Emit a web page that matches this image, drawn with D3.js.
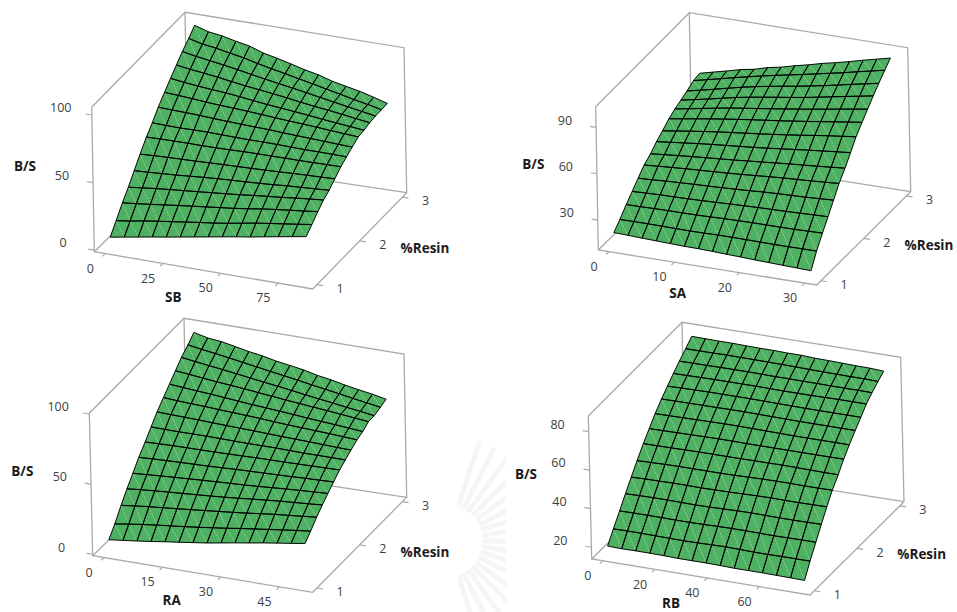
<!DOCTYPE html>
<html>
<head>
<meta charset="utf-8">
<script src="https://d3js.org/d3.v7.min.js"></script>
<style>
  html, body { margin: 0; background: #fff; }
  text { font-family: "Open Sans", "Noto Sans", sans-serif; }
</style>
</head>
<body>
<div id="chart"></div>
<script>
// %Resin levels, same for all four surfaces
const resinLevels = [1, 1.14, 1.29, 1.43, 1.57, 1.71, 1.86, 2, 2.14, 2.29, 2.43, 2.57, 2.71, 2.86, 3];
const resinTicks = [1, 2, 3];

const sbLevels = [0, 6.1, 12.2, 18.3, 24.4, 30.5, 36.6, 42.7, 48.8, 54.9, 61, 67.1, 73.2, 79.3, 85.4];
const saLevels = [0, 2.16, 4.31, 6.47, 8.63, 10.79, 12.94, 15.1, 17.26, 19.41, 21.57, 23.73, 25.89, 28.04, 30.2];
const raLevels = [0, 3.61, 7.23, 10.84, 14.46, 18.07, 21.69, 25.3, 28.91, 32.53, 36.14, 39.76, 43.37, 46.99, 50.6];
const rbLevels = [0, 5.39, 10.79, 16.18, 21.57, 26.96, 32.36, 37.75, 43.14, 48.54, 53.93, 59.32, 64.71, 70.11, 75.5];

const sbTicks = [0, 25, 50, 75];
const saTicks = [0, 10, 20, 30];
const raTicks = [0, 15, 30, 45];
const rbTicks = [0, 20, 40, 60];

const bsTicksSB = [0, 50, 100];
const bsTicksSA = [30, 60, 90];
const bsTicksRA = [0, 50, 100];
const bsTicksRB = [20, 40, 60, 80];

// B/S, one row per %Resin level
const sbValues = [
  [8, 9.8, 11.6, 13.4, 15.1, 16.9, 18.7, 20.5, 22.3, 24.1, 25.7, 27.6, 29.4, 31.2, 33],
  [15.9, 17.4, 19.2, 20.7, 22.1, 23.6, 25, 26.3, 27.9, 29.7, 31.5, 33, 34.4, 35.9, 37.4],
  [24.5, 25.6, 26.8, 28.1, 29.4, 30.6, 31.8, 33, 34.2, 35.6, 37.2, 38.5, 39.7, 40.8, 42.1],
  [31.7, 32.9, 34.1, 35.1, 36, 36.9, 37.9, 38.8, 39.8, 41, 42, 43, 44.2, 45.2, 46.2],
  [39.6, 40.1, 40.8, 41.4, 42.3, 43.1, 43.8, 44.4, 44.9, 45.5, 46.2, 47, 47.6, 48.2, 48.9],
  [47.4, 48, 48.4, 48.7, 49, 49.4, 49.8, 50.1, 50.4, 50.8, 51.2, 51.7, 52.1, 52.4, 52.8],
  [55.3, 55.6, 55.7, 55.8, 55.7, 55.8, 56, 56.3, 56.4, 56.4, 56.5, 56.5, 56.6, 56.8, 56.9],
  [61.5, 61.2, 61, 61.2, 61.2, 61, 60.7, 60.6, 60.6, 60.5, 60.2, 60, 60, 59.9, 59.7],
  [68.6, 68.2, 67.9, 67.5, 66.9, 66.4, 66, 65.6, 65.3, 64.7, 64.2, 63.8, 63.3, 62.8, 62.4],
  [74.8, 74.2, 73.5, 72.6, 71.9, 71.4, 70.8, 70.1, 69.3, 68.6, 68, 67.3, 66.5, 65.8, 65.1],
  [80.7, 79.4, 78.3, 77.4, 76.6, 75.5, 74.2, 73, 72, 71, 69.9, 68.7, 67.6, 66.6, 65.5],
  [86.1, 84.6, 83.4, 82.1, 80.5, 79, 77.8, 76.5, 75.1, 73.5, 72.1, 70.9, 69.5, 68, 66.6],
  [91.6, 89.7, 88.2, 86.6, 84.9, 83, 81.2, 79.5, 77.8, 76.1, 74.2, 72.4, 70.6, 68.8, 67],
  [96.5, 94, 92.6, 90.6, 88.8, 86.3, 84.1, 82.1, 79.9, 77.8, 75.6, 73.4, 71.1, 69.1, 66.9],
  [101.7, 98.6, 97.2, 94.9, 93, 89.5, 87.3, 84.8, 82.1, 80, 76.9, 74.8, 72.7, 70, 67]
];

const saValues = [
  [20.4, 20.1, 19.7, 19.4, 19.1, 18.8, 18.7, 18.4, 18, 17.7, 17.3, 17, 16.7, 16.4, 16.1],
  [25.1, 25.2, 25.2, 25.1, 25, 24.9, 25, 25.2, 25.2, 25.1, 25, 24.9, 24.9, 25, 25],
  [30.7, 30.8, 31, 31.1, 31.1, 31.2, 31.4, 31.7, 31.9, 32, 32, 32, 32.1, 32.3, 32.5],
  [35.4, 35.8, 36.1, 36.2, 36.4, 36.7, 37, 37.4, 37.7, 38, 38.2, 38.4, 38.7, 39, 39.3],
  [40.2, 40.6, 41.2, 41.6, 42, 42.3, 42.7, 43.1, 43.6, 44.2, 44.6, 44.9, 45.2, 45.7, 46.2],
  [44.9, 45.6, 46.2, 46.8, 47.3, 47.8, 48.3, 48.9, 49.6, 50.3, 50.9, 51.4, 51.9, 52.5, 53.1],
  [48.1, 49, 49.8, 50.6, 51.3, 52, 52.7, 53.5, 54.3, 55.1, 55.9, 56.6, 57.3, 58.1, 58.9],
  [52.2, 53.2, 54.2, 55.2, 56.1, 56.9, 57.7, 58.5, 59.4, 60.4, 61.4, 62.4, 63.3, 64.2, 65.1],
  [55.4, 56.7, 58, 59.2, 60.4, 61.4, 62.4, 63.4, 64.5, 65.6, 66.8, 68.1, 69.3, 70.4, 71.5],
  [59.1, 60.5, 61.9, 63.3, 64.6, 65.8, 67, 68.1, 69.2, 70.4, 71.6, 72.9, 74.2, 75.5, 76.7],
  [61.7, 63.2, 64.8, 66.4, 67.9, 69.2, 70.4, 71.7, 73, 74.3, 75.7, 77.1, 78.6, 80, 81.4],
  [63.6, 65.3, 67.1, 69, 70.9, 72.5, 73.9, 75.3, 76.6, 78, 79.6, 81.3, 82.9, 84.5, 86.1],
  [65.7, 67.6, 69.6, 71.7, 73.7, 75.5, 77.1, 78.6, 80, 81.6, 83.2, 85, 86.9, 88.6, 90.4],
  [68.3, 70.3, 72.3, 74.4, 76.4, 78.3, 80.1, 81.8, 83.5, 85.3, 87.1, 88.9, 90.9, 92.8, 94.7],
  [69.2, 71.4, 73.5, 75.8, 77.4, 79.9, 81.6, 83.9, 85.9, 88.2, 90.1, 92.2, 94.5, 96.6, 98.7]
];

const raValues = [
  [8.9, 10.1, 11.3, 12.6, 14.1, 15.4, 16.8, 18.2, 19.9, 21.6, 23.2, 24.9, 26.4, 27.9, 29.4],
  [16, 17.5, 18.9, 20.1, 21.2, 22.3, 23.5, 24.8, 26.1, 27.6, 28.9, 30.2, 31.5, 32.8, 34],
  [24.8, 26, 27.1, 28, 28.9, 29.9, 30.9, 31.9, 32.9, 34, 35.2, 36.4, 37.3, 38.3, 39.3],
  [32.4, 33.4, 34.2, 34.9, 35.6, 36.3, 37, 37.8, 38.7, 39.7, 40.6, 41.5, 42.2, 42.9, 43.7],
  [39.3, 39.9, 40.6, 41.2, 41.8, 42.4, 42.9, 43.4, 43.9, 44.5, 45.2, 45.9, 46.5, 47, 47.6],
  [46.4, 46.9, 47.3, 47.6, 47.9, 48.2, 48.6, 49.1, 49.4, 49.7, 50, 50.4, 50.8, 51.1, 51.5],
  [52.8, 53.1, 53.4, 53.5, 53.6, 53.7, 53.9, 54.1, 54.4, 54.5, 54.6, 54.8, 55, 55.2, 55.4],
  [59.3, 59.1, 59, 59.1, 59.1, 59, 58.8, 58.7, 58.7, 58.7, 58.5, 58.3, 58.3, 58.3, 58.2],
  [65.7, 65.4, 65.1, 64.8, 64.4, 64, 63.7, 63.4, 63, 62.6, 62.3, 62, 61.6, 61.2, 60.9],
  [71.4, 70.7, 70.2, 69.8, 69.2, 68.7, 68.2, 67.6, 66.9, 66.3, 65.8, 65.3, 64.8, 64.2, 63.6],
  [76.6, 75.8, 75, 74.3, 73.4, 72.5, 71.6, 70.9, 70.1, 69.3, 68.4, 67.6, 66.9, 66, 65.2],
  [81.9, 80.9, 79.8, 78.8, 77.9, 77, 75.9, 74.9, 73.8, 72.9, 71.9, 71, 70, 68.9, 67.9],
  [87.1, 85.7, 84.4, 83.2, 81.8, 80.4, 79, 77.7, 76.3, 74.8, 73.4, 72.1, 70.6, 69.3, 67.8],
  [91.4, 89.8, 88.4, 86.9, 85.3, 83.7, 82.1, 80.6, 79, 77.3, 75.7, 74.1, 72.4, 70.8, 69.2],
  [95.9, 93.6, 92.6, 90.7, 88.7, 87.2, 85.1, 83.6, 82, 79.7, 78.1, 76, 74.2, 72.6, 70.6]
];

const rbValues = [
  [19.5, 19.3, 19.4, 19.4, 19.3, 19.1, 19.1, 19.1, 19, 18.8, 18.8, 18.8, 18.7, 18.6, 18.5],
  [25.4, 25.5, 25.5, 25.4, 25.3, 25.2, 25.3, 25.5, 25.6, 25.5, 25.3, 25.3, 25.4, 25.4, 25.4],
  [31.5, 31.6, 31.6, 31.6, 31.5, 31.5, 31.6, 31.8, 31.9, 31.9, 31.8, 31.7, 31.8, 31.9, 31.9],
  [37.4, 37.6, 37.7, 37.7, 37.6, 37.5, 37.6, 37.8, 38, 38.1, 38, 37.9, 37.9, 38, 38.1],
  [43, 43.2, 43.3, 43.4, 43.4, 43.3, 43.4, 43.5, 43.7, 43.9, 44, 43.9, 43.9, 44, 44.1],
  [48.5, 48.7, 48.9, 49, 49, 49, 49, 49.1, 49.3, 49.5, 49.6, 49.6, 49.5, 49.5, 49.6],
  [54.1, 54.1, 54.2, 54.3, 54.4, 54.4, 54.4, 54.4, 54.5, 54.5, 54.6, 54.5, 54.4, 54.3, 54.3],
  [58.8, 58.9, 59, 59.1, 59.2, 59.3, 59.3, 59.2, 59.2, 59.2, 59.2, 59.2, 59.2, 59.2, 59.3],
  [63.5, 63.6, 63.7, 63.8, 63.9, 64, 64, 63.9, 63.8, 63.7, 63.6, 63.6, 63.6, 63.6, 63.6],
  [67.8, 67.9, 67.9, 68, 68, 68.1, 68.1, 68, 67.9, 67.8, 67.7, 67.7, 67.7, 67.7, 67.7],
  [71.4, 71.6, 71.7, 71.8, 71.8, 71.8, 71.8, 71.7, 71.6, 71.5, 71.4, 71.4, 71.4, 71.4, 71.4],
  [74.9, 75, 75.1, 75.2, 75.2, 75.2, 75.2, 75.1, 75, 75, 75, 75.1, 75.2, 75.2, 75.2],
  [78.2, 78.3, 78.3, 78.4, 78.4, 78.4, 78.3, 78.2, 78.2, 78.1, 78.1, 78, 78, 78, 77.9],
  [81.4, 81.4, 81.4, 81.5, 81.4, 81.4, 81.3, 81.2, 81.1, 80.9, 80.8, 80.7, 80.6, 80.6, 80.4],
  [84.7, 84.6, 84.5, 84.5, 84.3, 84.2, 84.2, 84, 84, 83.6, 83.5, 83.3, 83.1, 83, 82.6]
];

const width = 957;
const height = 612;
const fillGreen = "#4eb161";
const boxGrey = "#a9a9a9";
const textGrey = "#404040";

// domains are the box limits, corners are where the box lands on the page
const panels = [
  {
    xName: "SB", levels: sbLevels, values: sbValues, xTicks: sbTicks, zTicks: bsTicksSB,
    xDomain: [-4.75, 90], zDomain: [-1.2, 105.7],
    bottom: { fl: [94.3, 251.7], fr: [312.7, 289], br: [406.7, 192.7], bl: [187.7, 160] },
    top: { fl: [91.7, 107.3], fr: [310, 144], br: [404, 47.7], bl: [185, 12.3] },
    bsPos: [25, 167.7], xPos: [173.3, 298], resinPos: [425, 249]
  },
  {
    xName: "SA", levels: saLevels, values: saValues, xTicks: saTicks, zTicks: bsTicksSA,
    xDomain: [-1.63, 31.8], zDomain: [10.6, 103.4],
    bottom: { fl: [598.3, 250], fr: [816.7, 285], br: [910.7, 191.7], bl: [692, 157.3] },
    top: { fl: [595.7, 106.7], fr: [814, 141.7], br: [907.7, 47.7], bl: [689.3, 12.7] },
    bsPos: [533.3, 165.7], xPos: [677.7, 294.3], resinPos: [929, 246]
  },
  {
    xName: "RA", levels: raLevels, values: raValues, xTicks: raTicks, zTicks: bsTicksRA,
    xDomain: [-2.9, 53.6], zDomain: [-1, 100.5],
    bottom: { fl: [92.7, 555.7], fr: [312.7, 592.3], br: [406.7, 497.3], bl: [186.7, 464] },
    top: { fl: [89.3, 413.3], fr: [309.5, 450], br: [404, 354], bl: [184, 318.3] },
    bsPos: [22.3, 472.3], xPos: [171.7, 601.7], resinPos: [425, 553.3]
  },
  {
    xName: "RB", levels: rbLevels, values: rbValues, xTicks: rbTicks, zTicks: bsTicksRB,
    xDomain: [-4.2, 79.4], zDomain: [13.9, 88.1],
    bottom: { fl: [591.7, 559], fr: [810, 595], br: [904, 501.7], bl: [684.7, 467.3] },
    top: { fl: [588.3, 416], fr: [806.7, 452], br: [900.7, 357.3], bl: [682, 322.3] },
    bsPos: [526, 475], xPos: [671, 604], resinPos: [921.7, 555.7]
  }
];

const svg = d3.select("#chart").append("svg").attr("width", width).attr("height", height);
svg.append("rect").attr("width", width).attr("height", height).attr("fill", "#fff");

// faint seal behind the lower panels, only a strip of it shows
svg.append("clipPath").attr("id", "sealClip").append("rect")
  .attr("x", 458).attr("y", 440).attr("width", 48).attr("height", 172);
svg.append("g").attr("clip-path", "url(#sealClip)")
  .selectAll("line")
  .data(d3.range(-72, 73, 9))
  .enter()
  .append("line")
  .attr("x1", (d) => 447 + 36 * Math.cos(d * Math.PI / 180))
  .attr("y1", (d) => 541 + 36 * Math.sin(d * Math.PI / 180))
  .attr("x2", (d) => 447 + 105 * Math.cos(d * Math.PI / 180))
  .attr("y2", (d) => 541 + 105 * Math.sin(d * Math.PI / 180))
  .attr("stroke", "#f5f5f5")
  .attr("stroke-width", 5);

panels.forEach(drawPanel);

function drawPanel(p) {
  const uScale = d3.scaleLinear().domain(p.xDomain).range([0, 1]);
  const vScale = d3.scaleLinear().domain([0.9, 3.1]).range([0, 1]);
  const wScale = d3.scaleLinear().domain(p.zDomain).range([0, 1]);
  // the surface sits a little inside the box towards the back
  const surfaceV = d3.scaleLinear().domain([0.9, 3.12]).range([0, 1]);

  // trilinear map from box fractions to page
  function mix(a, b, t) {
    return [a[0] + (b[0] - a[0]) * t, a[1] + (b[1] - a[1]) * t];
  }
  function boxPoint(u, v, w) {
    const low = mix(mix(p.bottom.fl, p.bottom.fr, u), mix(p.bottom.bl, p.bottom.br, u), v);
    const high = mix(mix(p.top.fl, p.top.fr, u), mix(p.top.bl, p.top.br, u), v);
    return mix(low, high, w);
  }
  const project = (x, r, z) => {
    const v = surfaceV(r);
    const u = uScale(x) + 0.004;
    return boxPoint(u + (0.5 - u) * 0.03 * v, v, wScale(z));
  };
  const line = d3.line();

  const g = svg.append("g");

  // box, drawn behind the surface
  const frame = [
    [p.top.fl, p.top.bl, p.top.br, p.bottom.br, p.bottom.fr, p.bottom.fl, p.top.fl],
    [p.top.bl, p.bottom.bl, p.bottom.br],
    [p.bottom.bl, p.bottom.fl]
  ];
  g.selectAll(".frame")
    .data(frame)
    .enter()
    .append("path")
    .attr("class", "frame")
    .attr("d", (d) => line(d))
    .attr("fill", "none")
    .attr("stroke", boxGrey)
    .attr("stroke-width", 1.3);

  // tick stubs run along the neighbouring box edge
  const zTickPts = p.zTicks.map((t) => ({ t, a: boxPoint(0, 0, wScale(t)), b: boxPoint(-0.028, 0, wScale(t)) }));
  const xTickPts = p.xTicks.map((t) => ({ t, a: boxPoint(uScale(t), 0, 0), b: boxPoint(uScale(t), -0.03, 0) }));
  const rTickPts = resinTicks.map((t) => ({ t, a: boxPoint(1, vScale(t), 0), b: boxPoint(1.028, vScale(t), 0) }));
  const allTicks = zTickPts.concat(xTickPts, rTickPts);

  g.selectAll(".stub")
    .data(allTicks)
    .enter()
    .append("line")
    .attr("class", "stub")
    .attr("x1", (d) => d.a[0])
    .attr("y1", (d) => d.a[1])
    .attr("x2", (d) => d.b[0])
    .attr("y2", (d) => d.b[1])
    .attr("stroke", boxGrey)
    .attr("stroke-width", 1.2);

  const tickLabels = [
    { pts: zTickPts, dx: -25, dy: -5 },
    { pts: xTickPts, dx: -12, dy: 13 },
    { pts: rTickPts, dx: 17, dy: 4 }
  ];
  tickLabels.forEach((group) => {
    g.selectAll(null)
      .data(group.pts)
      .enter()
      .append("text")
      .attr("x", (d) => d.b[0] + group.dx)
      .attr("y", (d) => d.b[1] + group.dy)
      .attr("text-anchor", "middle")
      .attr("dominant-baseline", "middle")
      .attr("font-size", 12.5)
      .attr("fill", textGrey)
      .text((d) => d.t);
  });

  // surface: every cell is split in two triangles with a pale seam between them
  const grid = p.values.map((row, i) => row.map((z, j) => project(p.levels[j], resinLevels[i], z)));
  const triangles = [];
  const cells = [];
  const seams = [];
  d3.range(grid.length - 1).forEach((i) => {
    d3.range(grid[0].length - 1).forEach((j) => {
      const a = grid[i][j];
      const b = grid[i][j + 1];
      const c = grid[i + 1][j + 1];
      const d = grid[i + 1][j];
      triangles.push([a, b, d], [b, c, d]);
      cells.push([a, b, c, d, a]);
      seams.push([d, b]);
    });
  });
  g.selectAll(".tri")
    .data(triangles)
    .enter()
    .append("path")
    .attr("class", "tri")
    .attr("d", (d) => line(d) + "Z")
    .attr("fill", fillGreen)
    .attr("stroke", fillGreen)
    .attr("stroke-width", 0.3);

  g.selectAll(".seam")
    .data(seams)
    .enter()
    .append("path")
    .attr("class", "seam")
    .attr("d", (d) => line(d))
    .attr("stroke", "#fff")
    .attr("stroke-opacity", 0.4)
    .attr("stroke-width", 0.6)
    .attr("stroke-dasharray", "2 1.5");

  g.selectAll(".cell")
    .data(cells)
    .enter()
    .append("path")
    .attr("class", "cell")
    .attr("d", (d) => line(d))
    .attr("fill", "none")
    .attr("stroke", "#000")
    .attr("stroke-width", 0.95)
    .attr("stroke-linejoin", "round");

  // axis titles
  const titles = [["B/S", p.bsPos], [p.xName, p.xPos], ["%Resin", p.resinPos]];
  g.selectAll(".title")
    .data(titles)
    .enter()
    .append("text")
    .attr("class", "title")
    .attr("x", (d) => d[1][0])
    .attr("y", (d) => d[1][1])
    .attr("text-anchor", "middle")
    .attr("dominant-baseline", "middle")
    .attr("font-size", 13.5)
    .attr("font-weight", 700)
    .attr("fill", "#1a1a1a")
    .text((d) => d[0]);
}
</script>
</body>
</html>
